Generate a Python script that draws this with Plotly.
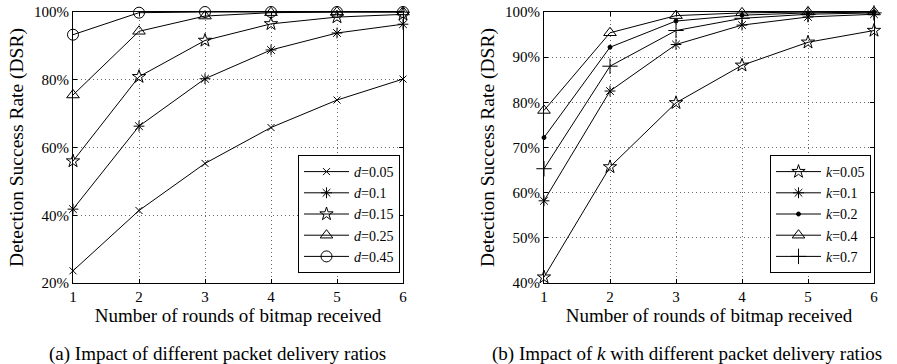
import plotly.graph_objects as go

rounds = [1, 2, 3, 4, 5, 6]

# Left panel: different packet delivery ratios d
d_labels = ["0.05", "0.1", "0.15", "0.25", "0.45"]
d_005 = [23.6, 41.4, 55.3, 65.9, 74.0, 80.2]
d_01 = [41.8, 66.3, 80.3, 88.8, 93.8, 96.4]
d_015 = [56.0, 80.9, 91.6, 96.5, 98.5, 99.3]
d_025 = [75.5, 94.3, 98.8, 99.8, 100.0, 100.0]
d_045 = [93.3, 99.8, 100.0, 100.0, 100.0, 100.0]

# Right panel: different k
k_labels = ["0.05", "0.1", "0.2", "0.4", "0.7"]
k_005 = [41.3, 65.7, 79.9, 88.2, 93.3, 95.9]
k_01 = [58.2, 82.5, 92.8, 97.1, 98.9, 99.5]
k_02 = [72.2, 92.2, 98.0, 99.3, 99.8, 100.0]
k_04 = [78.2, 95.4, 99.2, 99.8, 100.0, 100.0]
k_07 = [65.3, 88.0, 95.9, 98.6, 99.5, 99.8]

left_ticks = [20, 40, 60, 80, 100]
right_ticks = [40, 50, 60, 70, 80, 90, 100]

FONT = "Liberation Serif, Times New Roman, serif"
W, H = 897, 364

def px(x):
    return x / W

def py(y):
    return (H - y) / H

fig = go.Figure()

left_series = [d_005, d_01, d_015, d_025, d_045]
left_symbols = ["x-thin-open", "asterisk-open", "star-open", "triangle-up-open", "circle-open"]
left_sizes = [7, 9, 10, 11, 11]
for lab, vals, sym, sz in zip(d_labels, left_series, left_symbols, left_sizes):
    fig.add_trace(go.Scatter(
        x=rounds, y=vals, mode="lines+markers", name="<i>d</i>=" + lab,
        line=dict(color="black", width=1),
        marker=dict(symbol=sym, size=sz, color="black", line=dict(color="black", width=1)),
        cliponaxis=False, xaxis="x", yaxis="y", legend="legend"))

right_series = [k_005, k_01, k_02, k_04, k_07]
right_symbols = ["star-open", "asterisk-open", "circle", "triangle-up-open", "cross-thin-open"]
right_sizes = [10, 9, 4, 11, 11]
for lab, vals, sym, sz in zip(k_labels, right_series, right_symbols, right_sizes):
    fig.add_trace(go.Scatter(
        x=rounds, y=vals, mode="lines+markers", name="<i>k</i>=" + lab,
        line=dict(color="black", width=1),
        marker=dict(symbol=sym, size=sz, color="black", line=dict(color="black", width=1)),
        cliponaxis=False, xaxis="x2", yaxis="y2", legend="legend2"))

axis_common = dict(
    showline=True, linecolor="black", linewidth=1, mirror="ticks",
    ticks="inside", ticklen=4, tickcolor="black",
    showgrid=True, gridcolor="#666666", griddash="1px,3px", gridwidth=1,
    zeroline=False, tickfont=dict(family=FONT, size=15, color="black"),
    automargin=False, ticklabeloverflow="allow",
)

xtitle = dict(text="Number of rounds of bitmap received", font=dict(family=FONT, size=19, color="black"), standoff=0)
ytitle = dict(text="Detection Success Rate (DSR)", font=dict(family=FONT, size=19.5, color="black"), standoff=5)

legend_common = dict(
    xanchor="right", yanchor="bottom", bordercolor="black", borderwidth=1, bgcolor="white",
    font=dict(family=FONT, size=14, color="black"), tracegroupgap=0, itemwidth=45,
)

fig.update_layout(
    width=W, height=H, margin=dict(l=0, r=0, t=0, b=0, autoexpand=False),
    paper_bgcolor="white", plot_bgcolor="white",
    font=dict(family=FONT, color="black"),
    xaxis=dict(domain=[px(73), px(403)], range=[1, 6], dtick=1, anchor="y", title=xtitle, **axis_common),
    yaxis=dict(domain=[py(283), py(12)], range=[20, 100], tickvals=left_ticks,
               ticktext=[f"{v}%" for v in left_ticks], anchor="x", title=ytitle, **axis_common),
    xaxis2=dict(domain=[px(544), px(874)], range=[1, 6], dtick=1, anchor="y2", title=xtitle, **axis_common),
    yaxis2=dict(domain=[py(283), py(12)], range=[40, 100], tickvals=right_ticks,
                ticktext=[f"{v}%" for v in right_ticks], anchor="x2", title=ytitle, **axis_common),
    legend=dict(x=px(400), y=py(273), **legend_common),
    legend2=dict(x=px(871), y=py(273), **legend_common),
    showlegend=True,
)

fig.add_annotation(text="(a) Impact of different packet delivery ratios", xref="paper", yref="paper",
                   x=px(217), y=py(354), showarrow=False, yanchor="middle", xanchor="center",
                   font=dict(family=FONT, size=19, color="black"))
fig.add_annotation(text="(b) Impact of <i>k</i> with different packet delivery ratios", xref="paper", yref="paper",
                   x=px(687), y=py(354), showarrow=False, yanchor="middle", xanchor="center",
                   font=dict(family=FONT, size=19, color="black"))

fig.write_html("out.html", config={"displayModeBar": False},
               post_script="document.body.style.margin='0';")
